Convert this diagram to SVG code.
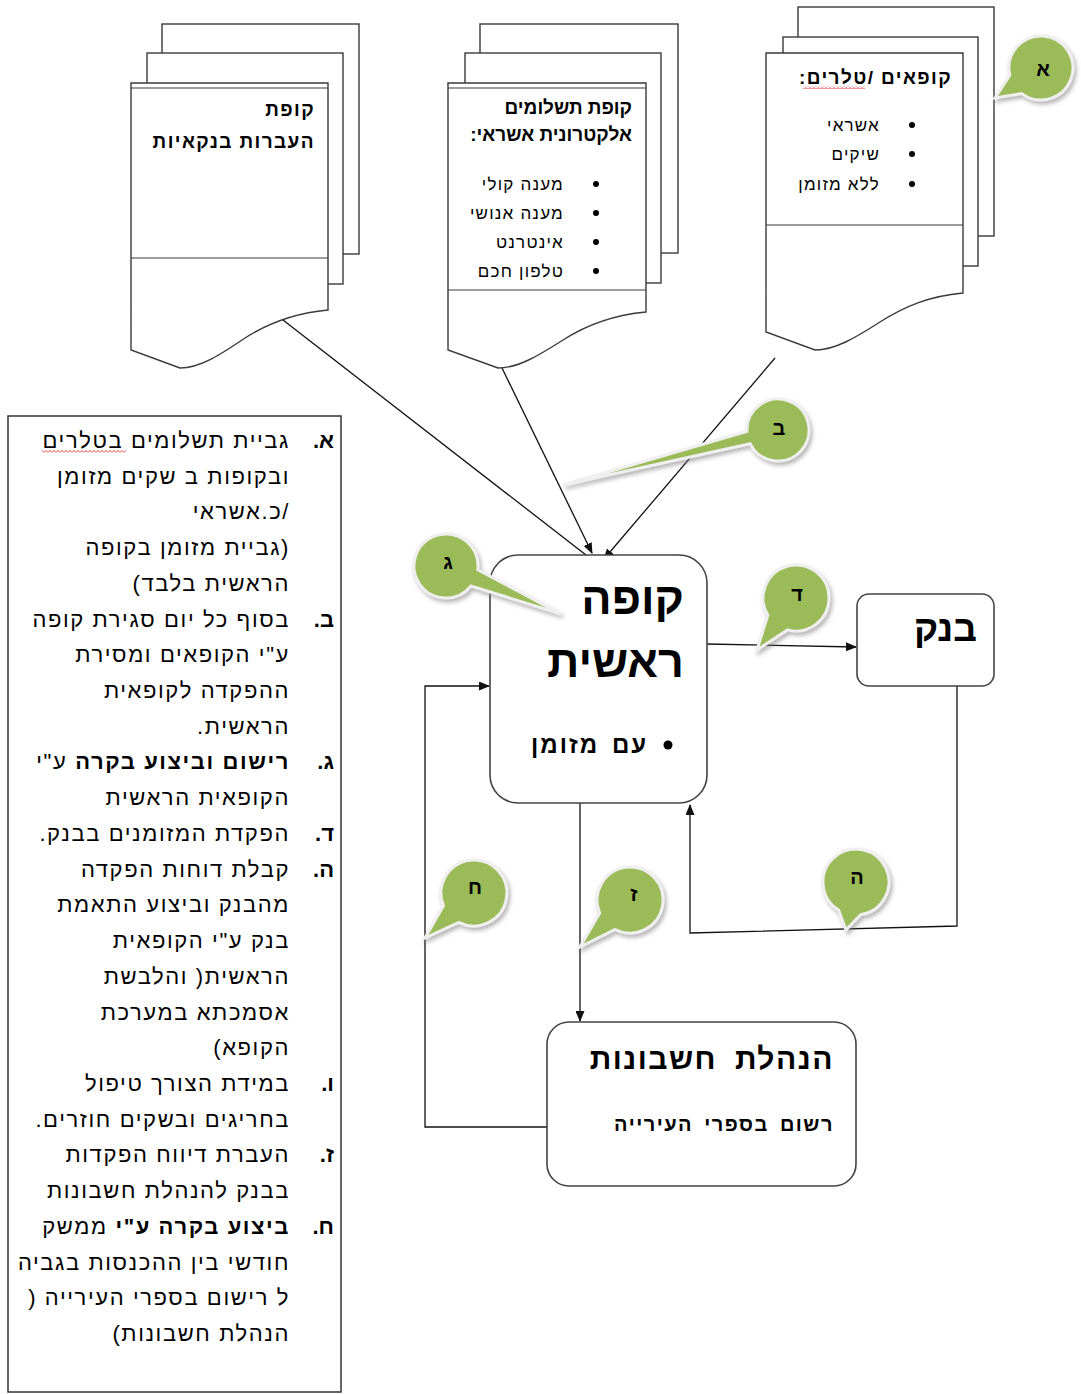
<svg xmlns="http://www.w3.org/2000/svg" width="1081" height="1394" viewBox="0 0 1081 1394">
<style>
text{font-family:"Liberation Sans","DejaVu Sans",Arial,sans-serif;fill:#000;}
.rtl{direction:rtl;unicode-bidi:embed;text-anchor:start;}
.sheet{fill:#fff;stroke:#3a3a3a;stroke-width:1.4;}
.thin{stroke:#3a3a3a;stroke-width:1.2;fill:none;}
.box{fill:#fff;stroke:#444;stroke-width:1.6;}
.conn{stroke:#111;stroke-width:1.3;fill:none;}
.dh{font-size:19px;font-weight:bold;letter-spacing:1.4px;}
.dh0{font-size:19px;font-weight:bold;}
.di{font-size:17px;letter-spacing:1.2px;}
.nt{font-size:22px;letter-spacing:1.6px;}
.mk{font-size:22px;font-weight:bold;}
.bub{fill:#9bbb59;stroke:#efefef;stroke-width:3;filter:url(#sh);}
.bl{font-size:20px;font-weight:bold;text-anchor:middle;}
</style>
<defs>
<marker id="arr" markerUnits="userSpaceOnUse" markerWidth="11" markerHeight="9" refX="10" refY="4.5" orient="auto">
<path d="M0,0 L11,4.5 L0,9 Z" fill="#111"/>
</marker>
<filter id="sh" x="-40%" y="-40%" width="180%" height="180%">
<feDropShadow dx="2" dy="3" stdDeviation="2" flood-color="#7a7a7a" flood-opacity="0.55"/>
</filter>
<pattern id="squig" width="4" height="3" patternUnits="userSpaceOnUse">
<path d="M0,2.5 L2,0.5 L4,2.5" fill="none" stroke="#e02020" stroke-width="0.9"/>
</pattern>
</defs>

<!-- Document stack 1 -->
<g id="doc-transfers">
<rect class="sheet" x="162" y="24" width="197" height="230"/>
<rect class="sheet" x="147" y="53" width="196" height="231"/>
<path class="sheet" d="M131,83 H328 V310 C295,313 270,322 245,338 C220,355 200,368 180,368 L131,350 Z"/>
<line class="thin" x1="131" y1="88" x2="328" y2="88"/>
<line class="thin" x1="131" y1="258" x2="328" y2="258"/>
<text class="rtl dh" x="315" y="116">קופת</text>
<text class="rtl dh" x="315" y="148">העברות בנקאיות</text>
</g>

<!-- Document stack 2 -->
<g id="doc-electronic">
<rect class="sheet" x="480" y="24" width="198" height="229"/>
<rect class="sheet" x="465" y="53" width="196" height="230"/>
<path class="sheet" d="M448,83 H646 V312 C613,315 588,324 563,340 C538,356 518,368 498,368 L448,350 Z"/>
<line class="thin" x1="448" y1="88" x2="646" y2="88"/>
<line class="thin" x1="448" y1="290" x2="646" y2="290"/>
<text class="rtl dh0" x="632" y="114">קופת תשלומים</text>
<text class="rtl dh0" x="632" y="141">אלקטרונית אשראי:</text>
<circle cx="596" cy="184" r="3"/>
<circle cx="596" cy="213" r="3"/>
<circle cx="596" cy="242" r="3"/>
<circle cx="596" cy="271" r="3"/>
<text class="rtl di" x="564" y="190">מענה קולי</text>
<text class="rtl di" x="564" y="219">מענה אנושי</text>
<text class="rtl di" x="564" y="248">אינטרנט</text>
<text class="rtl di" x="564" y="277">טלפון חכם</text>
</g>

<!-- Document stack 3 -->
<g id="doc-cashiers">
<rect class="sheet" x="798" y="7" width="196" height="229"/>
<rect class="sheet" x="783" y="37" width="195" height="229"/>
<path class="sheet" d="M766,53 H963 V293 C930,296 905,306 880,322 C855,338 835,350 815,350 L766,332 Z"/>
<line class="thin" x1="766" y1="225" x2="963" y2="225"/>
<text class="rtl dh" x="952" y="84">קופאים /טלרים:</text>
<rect x="803" y="86" width="62" height="3" fill="url(#squig)"/>
<circle cx="912" cy="125" r="3"/>
<circle cx="912" cy="154" r="3"/>
<circle cx="912" cy="184" r="3"/>
<text class="rtl di" x="880" y="131">אשראי</text>
<text class="rtl di" x="880" y="160">שיקים</text>
<text class="rtl di" x="880" y="190">ללא מזומן</text>
</g>

<!-- Connectors -->
<g id="connectors">
<line class="conn" x1="283" y1="320" x2="586" y2="555"/>
<line class="conn" x1="502" y1="368" x2="592" y2="553" marker-end="url(#arr)"/>
<line class="conn" x1="775" y1="358" x2="604" y2="559" marker-end="url(#arr)"/>
<line class="conn" x1="707" y1="644" x2="856" y2="647" marker-end="url(#arr)"/>
<polyline class="conn" points="957,686 957,926 690,933 690,805" marker-end="url(#arr)"/>
<line class="conn" x1="580" y1="803" x2="580" y2="1021" marker-end="url(#arr)"/>
<polyline class="conn" points="547,1127 425,1127 425,686 489,686" marker-end="url(#arr)"/>
</g>

<!-- Main cash desk -->
<g id="main-cashdesk">
<rect class="box" x="490" y="555" width="217" height="248" rx="28"/>
<text class="rtl" x="684" y="614" font-size="45" font-weight="bold">קופה</text>
<text class="rtl" x="684" y="677" font-size="45" font-weight="bold">ראשית</text>
<circle cx="668" cy="745" r="4.5"/>
<text class="rtl" x="648" y="753" font-size="24" font-weight="bold" letter-spacing="2" word-spacing="4">עם מזומן</text>
</g>

<!-- Bank -->
<g id="bank">
<rect class="box" x="857" y="594" width="137" height="92" rx="12"/>
<text class="rtl" x="977" y="641" font-size="37" font-weight="bold">בנק</text>
</g>

<!-- Accounting -->
<g id="accounting">
<rect class="box" x="547" y="1022" width="309" height="164" rx="22"/>
<text class="rtl" x="834" y="1069" font-size="30" font-weight="bold" letter-spacing="1.5" word-spacing="8">הנהלת חשבונות</text>
<text class="rtl" x="834" y="1131" font-size="20" font-weight="bold" letter-spacing="1.5" word-spacing="4">רשום בספרי העירייה</text>
</g>

<!-- Notes box -->
<g id="notes">
<rect x="8" y="416" width="333" height="976" fill="#fff" stroke="#333" stroke-width="1.5"/>
<rect x="42" y="450" width="84" height="3" fill="url(#squig)"/>
<text class="rtl mk" x="334" y="448">א.</text>
<text class="rtl nt" x="290" y="448">גביית תשלומים בטלרים</text>
<text class="rtl nt" x="290" y="484">ובקופות ב שקים מזומן</text>
<text class="rtl nt" x="290" y="519">/כ.אשראי</text>
<text class="rtl nt" x="290" y="555">(גביית מזומן בקופה</text>
<text class="rtl nt" x="290" y="591">הראשית בלבד)</text>
<text class="rtl mk" x="334" y="627">ב.</text>
<text class="rtl nt" x="290" y="627">בסוף כל יום סגירת קופה</text>
<text class="rtl nt" x="290" y="662">ע"י הקופאים ומסירת</text>
<text class="rtl nt" x="290" y="698">ההפקדה לקופאית</text>
<text class="rtl nt" x="290" y="734">הראשית.</text>
<text class="rtl mk" x="334" y="769">ג.</text>
<text class="rtl nt" x="290" y="769"><tspan font-weight="bold">רישום וביצוע בקרה</tspan> ע"י</text>
<text class="rtl nt" x="290" y="805">הקופאית הראשית</text>
<text class="rtl mk" x="334" y="841">ד.</text>
<text class="rtl nt" x="290" y="841">הפקדת המזומנים בבנק.</text>
<text class="rtl mk" x="334" y="877">ה.</text>
<text class="rtl nt" x="290" y="877">קבלת דוחות הפקדה</text>
<text class="rtl nt" x="290" y="912">מהבנק וביצוע התאמת</text>
<text class="rtl nt" x="290" y="948">בנק ע"י הקופאית</text>
<text class="rtl nt" x="290" y="984">הראשית( והלבשת</text>
<text class="rtl nt" x="290" y="1020">אסמכתא במערכת</text>
<text class="rtl nt" x="290" y="1055">הקופא)</text>
<text class="rtl mk" x="334" y="1091">ו.</text>
<text class="rtl nt" x="290" y="1091">במידת הצורך טיפול</text>
<text class="rtl nt" x="290" y="1127">בחריגים ובשקים חוזרים.</text>
<text class="rtl mk" x="334" y="1162">ז.</text>
<text class="rtl nt" x="290" y="1162">העברת דיווח הפקדות</text>
<text class="rtl nt" x="290" y="1198">בבנק להנהלת חשבונות</text>
<text class="rtl mk" x="334" y="1234">ח.</text>
<text class="rtl nt" x="290" y="1234"><tspan font-weight="bold">ביצוע בקרה ע"י</tspan> ממשק</text>
<text class="rtl nt" x="290" y="1270">חודשי בין ההכנסות בגביה</text>
<text class="rtl nt" x="290" y="1305">ל רישום בספרי העירייה (</text>
<text class="rtl nt" x="290" y="1341">הנהלת חשבונות)</text>
</g>

<!-- Callouts -->
<g id="callout-alef">
<path class="bub" d="M1021.8,93.6 A32,32 0 1 0 1009.8,75.3 L995,98 Z"/>
<text class="bl" x="1043" y="76" font-size="25" font-weight="normal">א</text>
</g>
<g id="callout-bet">
<path class="bub" d="M750.2,443.8 A31,31 0 1 0 747,431.3 L563,485 Z"/>
<text class="bl" x="779" y="435">ב</text>
</g>
<g id="callout-gimel">
<path class="bub" d="M477.8,569.7 A32,32 0 1 0 471,586 L561,614 Z"/>
<text class="bl" x="448" y="569">ג</text>
</g>
<g id="callout-dalet">
<path class="bub" d="M787.5,629.9 A33,33 0 1 0 767.8,615.1 L757,650 Z"/>
<text class="bl" x="797" y="601">ד</text>
</g>
<g id="callout-he">
<path class="bub" d="M860.7,914.7 A33,33 0 1 0 838.6,910.1 L846,930 Z"/>
<text class="bl" x="857" y="884">ה</text>
</g>
<g id="callout-zayin">
<path class="bub" d="M615.1,929.5 A33,33 0 1 0 599.7,913 L580,947 Z"/>
<text class="bl" x="634" y="901">ז</text>
</g>
<g id="callout-het">
<path class="bub" d="M458.8,922.3 A33,33 0 1 0 443.5,905.7 L425,938 Z"/>
<text class="bl" x="475" y="894">ח</text>
</g>
</svg>
